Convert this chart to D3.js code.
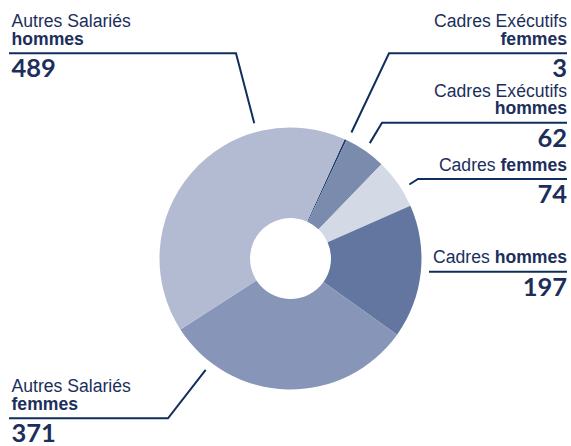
<!DOCTYPE html>
<html>
<head>
<meta charset="utf-8">
<script src="https://cdn.jsdelivr.net/npm/d3@7"></script>
<style>
  html, body { margin: 0; padding: 0; background: #fff; }
  svg { display: block; }
  .lbl { font-family: "Liberation Sans", Arial, sans-serif; font-size: 17.6px; fill: #1c2f5c; }
  .num { font-family: "Lato", "Liberation Sans", sans-serif; font-weight: 700; font-size: 25.5px; fill: #1c2f5c; }
</style>
</head>
<body>
<svg id="chart" width="571" height="446"></svg>
<script>
// Headcount by category
const categories = [
  "Cadres Exécutifs femmes",
  "Cadres Exécutifs hommes",
  "Cadres femmes",
  "Cadres hommes",
  "Autres Salariés femmes",
  "Autres Salariés hommes"
];
const values = [3, 62, 74, 197, 371, 489];
const colors = ["#1f3a6a", "#7a8bae", "#d4d9e6", "#63769f", "#8796b8", "#b3bbd3"];

// Label text: first line (regular), then a second line with the bold word
const labelLine1 = ["Cadres Exécutifs", "Cadres Exécutifs", "", "", "Autres Salariés", "Autres Salariés"];
const labelPrefix = ["", "", "Cadres ", "Cadres ", "", ""];
const labelBold = ["femmes", "hommes", "femmes", "hommes", "femmes", "hommes"];

// Callout layout: side, rule height, elbow x, leader angle (deg, clockwise from 12 o'clock)
const labelSide = ["right", "right", "right", "right", "left", "left"];
const ruleY = [53.3, 122.7, 179, 271.7, 418.3, 53.3];
const elbowX = [389, 382, 418, null, 168, 236];
const leaderAngle = [25.8, 34.5, 58.1, null, 217.3, 345];

const W = 571, H = 446;
const cx = 290.5, cy = 258.5;
const outerR = 131, innerR = 40.5, leaderR = 140;
const startDeg = 24.4;

const svg = d3.select("#chart");
const g = svg.append("g").attr("transform", `translate(${cx},${cy})`);

const pie = d3.pie()
  .value(d => d)
  .sort(null)
  .startAngle(startDeg * Math.PI / 180)
  .endAngle((startDeg + 360) * Math.PI / 180);

const arc = d3.arc().innerRadius(innerR).outerRadius(outerR);

g.selectAll("path.slice")
  .data(pie(values))
  .join("path")
  .attr("class", "slice")
  .attr("d", arc)
  .attr("fill", (d, i) => colors[i]);

// Callouts
const lineColor = "#0f2e5e";
const leftX = 9, rightX = 567;
const ann = svg.append("g");

categories.forEach((c, i) => {
  const side = labelSide[i];
  const ry = ruleY[i];
  const tx = side === "left" ? 11.5 : 567;
  const anchor = side === "left" ? "start" : "end";
  const pts = [];
  if (side === "left") {
    pts.push([leftX, ry], [elbowX[i], ry]);
  } else {
    pts.push([rightX, ry], [elbowX[i] === null ? 429 : elbowX[i], ry]);
  }
  if (leaderAngle[i] !== null) {
    const a = leaderAngle[i] * Math.PI / 180;
    pts.push([cx + leaderR * Math.sin(a), cy - leaderR * Math.cos(a)]);
  }
  ann.append("path")
    .attr("d", d3.line()(pts))
    .attr("fill", "none")
    .attr("stroke", lineColor)
    .attr("stroke-width", 2);

  // text lines
  if (labelLine1[i]) {
    ann.append("text").attr("class", "lbl")
      .attr("x", tx).attr("y", ry - 26)
      .attr("text-anchor", anchor)
      .text(labelLine1[i]);
  }
  const t2 = ann.append("text").attr("class", "lbl")
    .attr("x", tx).attr("y", ry - 8.5)
    .attr("text-anchor", anchor);
  if (labelPrefix[i]) t2.append("tspan").text(labelPrefix[i]);
  t2.append("tspan").attr("font-weight", 700).text(labelBold[i]);

  ann.append("text").attr("class", "num")
    .attr("x", tx).attr("y", ry + 24)
    .attr("text-anchor", anchor)
    .text(values[i]);
});
</script>
</body>
</html>
